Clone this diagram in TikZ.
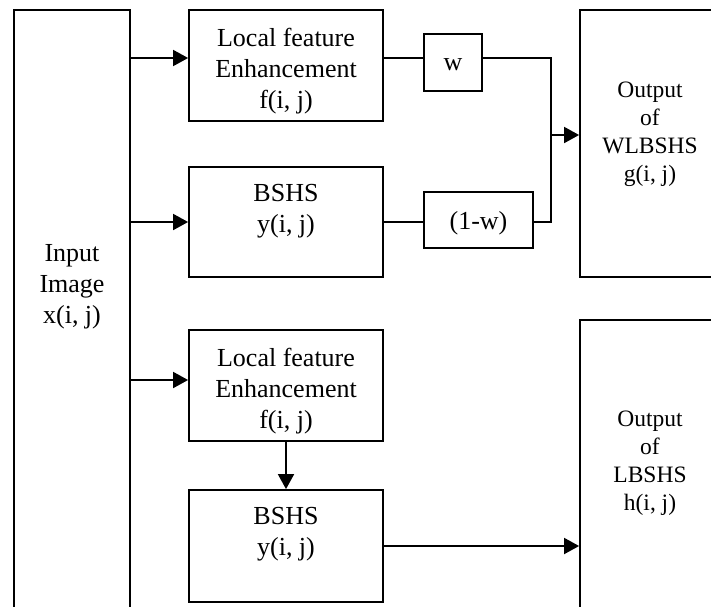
\documentclass[tikz,border=0pt]{standalone}
\usepackage{fontspec}
\setmainfont{Liberation Serif}
\usetikzlibrary{arrows.meta}
\begin{document}
\begin{tikzpicture}[x=1pt,y=-1pt,
  blk/.style={draw, line width=1.8pt, inner sep=0pt},
  txt/.style={inner sep=0pt, align=center, font=\fontsize{26}{31}\selectfont},
  otxt/.style={inner sep=0pt, align=center, font=\fontsize{23.5}{28}\selectfont},
  wire/.style={line width=1.8pt},
  arr/.style={line width=1.8pt, -{Triangle[length=15pt,width=16pt]}}]
\useasboundingbox (0,0) rectangle (711,606);
\clip (0,0) rectangle (711,606);
% boxes
\node[blk, minimum width=116pt, minimum height=660pt] (inp) at (72,340) {};
\node[txt] (inptxt) at (72,287) {Input\\Image\\x(i, j)};
\node[blk, minimum width=194pt, minimum height=111pt] (lfe1) at (286,65.5) {};
\node[txt] (lfe1txt) at (286,71) {Local feature\\Enhancement\\f(i, j)};
\node[blk, minimum width=194pt, minimum height=110pt] (bshs1) at (286,222) {};
\node[txt] (bshs1txt) at (286,211) {BSHS\\y(i, j)};
\node[blk, minimum width=58pt, minimum height=57pt] (wbox) at (453,62.5) {};
\node[txt] (wtxt) at (453,65) {w};
\node[blk, minimum width=109pt, minimum height=56pt] (omw) at (478.5,220) {};
\node[txt] (omwtxt) at (478.5,223) {(1-w)};
\node[blk, minimum width=140pt, minimum height=267pt] (out1) at (650,143.5) {};
\node[otxt] (out1txt) at (650,134) {Output\\of\\WLBSHS\\g(i, j)};
\node[blk, minimum width=194pt, minimum height=111pt] (lfe2) at (286,385.5) {};
\node[txt] (lfe2txt) at (286,391) {Local feature\\Enhancement\\f(i, j)};
\node[blk, minimum width=194pt, minimum height=112pt] (bshs2) at (286,546) {};
\node[txt] (bshs2txt) at (286,534) {BSHS\\y(i, j)};
\node[blk, minimum width=140pt, minimum height=330pt] (out2) at (650,485) {};
\node[otxt] (out2txt) at (650,463) {Output\\of\\LBSHS\\h(i, j)};
% connectors
\draw[arr] (inp.east |- 0,58) -- ([yshift=7.5pt]lfe1.west);
\draw[arr] (inp.east |- bshs1.west) -- (bshs1.west);
\draw[arr] (inp.east |- 0,380) -- ([yshift=5.5pt]lfe2.west);
\draw[wire] ([yshift=7.5pt]lfe1.east) -- ([yshift=4.5pt]wbox.west);
\draw[wire] (bshs1.east) -- ([yshift=-2pt]omw.west);
\coordinate (jx) at (551,135);
\draw[wire] ([yshift=4.5pt]wbox.east) -| (jx);
\draw[wire] ([yshift=-2pt]omw.east) -| (jx);
\draw[arr] (jx) -- (out1.west |- jx);
\draw[arr] (lfe2.south) -- (bshs2.north);
\draw[arr] (bshs2.east) -- (out2.west |- bshs2.east);
\end{tikzpicture}
\end{document}
